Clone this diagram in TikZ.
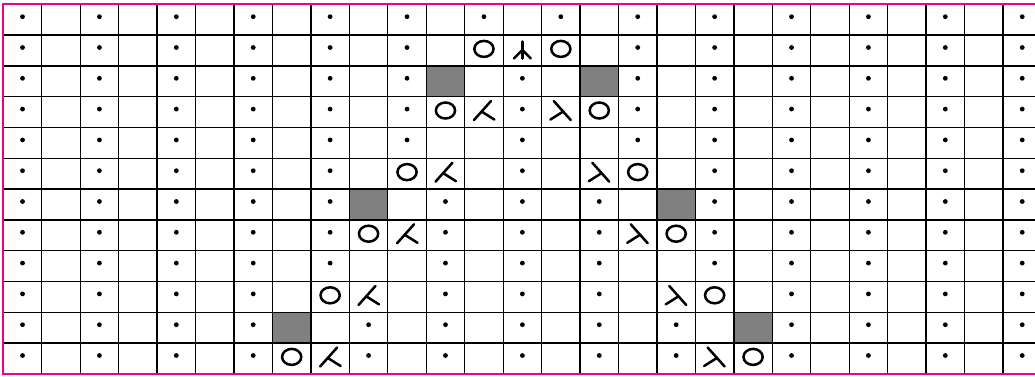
\documentclass[tikz,border=0pt]{standalone}
\usepackage{tikz}
\definecolor{cellgray}{RGB}{128,128,128}

\tikzset{
  knit/.style={line width=1.25pt,line cap=round},
  gridline/.style={line width=0.65pt},
  yo/.pic={\draw[knit] (0pt,0.8pt) ellipse (4.8pt and 4pt);},
  ltog/.pic={\draw[knit] (-5pt,-4pt)--(3.5pt,5.5pt); \draw[knit] (-1.2pt,0.3pt)--(5.25pt,-3.75pt);},
  rtog/.pic={\draw[knit] (5pt,-4pt)--(-3.5pt,5.5pt); \draw[knit] (1.2pt,0.3pt)--(-5.25pt,-3.75pt);},
  cdec/.pic={\draw[knit] (0pt,4.5pt)--(0pt,-4pt); \draw[knit] (-4.2pt,-4pt)--(0pt,0.3pt)--(4.2pt,-4pt);},
  purl/.pic={\fill (0pt,1.5pt) circle (1.2pt);}
}

\begin{document}
\begin{tikzpicture}[x=19.225pt,y=15.4pt]
\useasboundingbox (-1.65pt,2.15pt) rectangle (515.85pt,-185.85pt);
\clip (-1.65pt,2.15pt) rectangle (515.85pt,-185.85pt);

\foreach \r/\c in {2/11,2/15,6/9,6/17,10/7,10/19}
  \fill[cellgray] (\c,-\r) rectangle ++(1,-1);

\foreach \c in {0,...,27} \draw[gridline] (\c,0)--(\c,-12);
\foreach \r in {0,...,12} \draw[gridline] (0,-\r)--(27,-\r);

\foreach \r/\lt in {0/10,1/10,2/10,3/10,4/10,5/8,6/8,7/8,8/8,9/6,10/6,11/6}
  \foreach \c in {0,2,...,\lt} {
    \pic at (\c+0.5,-\r-0.5) {purl};
    \pic at (26.5-\c,-\r-0.5) {purl};
  }
\foreach \r/\c in {0/12,0/14,2/13,3/13,4/13,5/13,6/11,6/13,6/15,7/11,7/13,7/15,
  8/11,8/13,8/15,9/11,9/13,9/15,10/9,10/11,10/13,10/15,10/17,11/9,11/11,11/13,11/15,11/17}
  \pic at (\c+0.5,-\r-0.5) {purl};

\foreach \r/\c in {1/12,1/14,3/11,3/15,5/10,5/16,7/9,7/17,9/8,9/18,11/7,11/19}
  \pic at (\c+0.5,-\r-0.5) {yo};
\foreach \r/\c in {3/12,5/11,7/10,9/9,11/8}
  \pic at (\c+0.5,-\r-0.5) {ltog};
\foreach \r/\c in {3/14,5/15,7/16,9/17,11/18}
  \pic at (\c+0.5,-\r-0.5) {rtog};
\pic at (13.5,-1.5) {cdec};

\draw[magenta,line width=0.9pt] (27,0)--(0,0)--(0,-12)--(27,-12);
\end{tikzpicture}
\end{document}
